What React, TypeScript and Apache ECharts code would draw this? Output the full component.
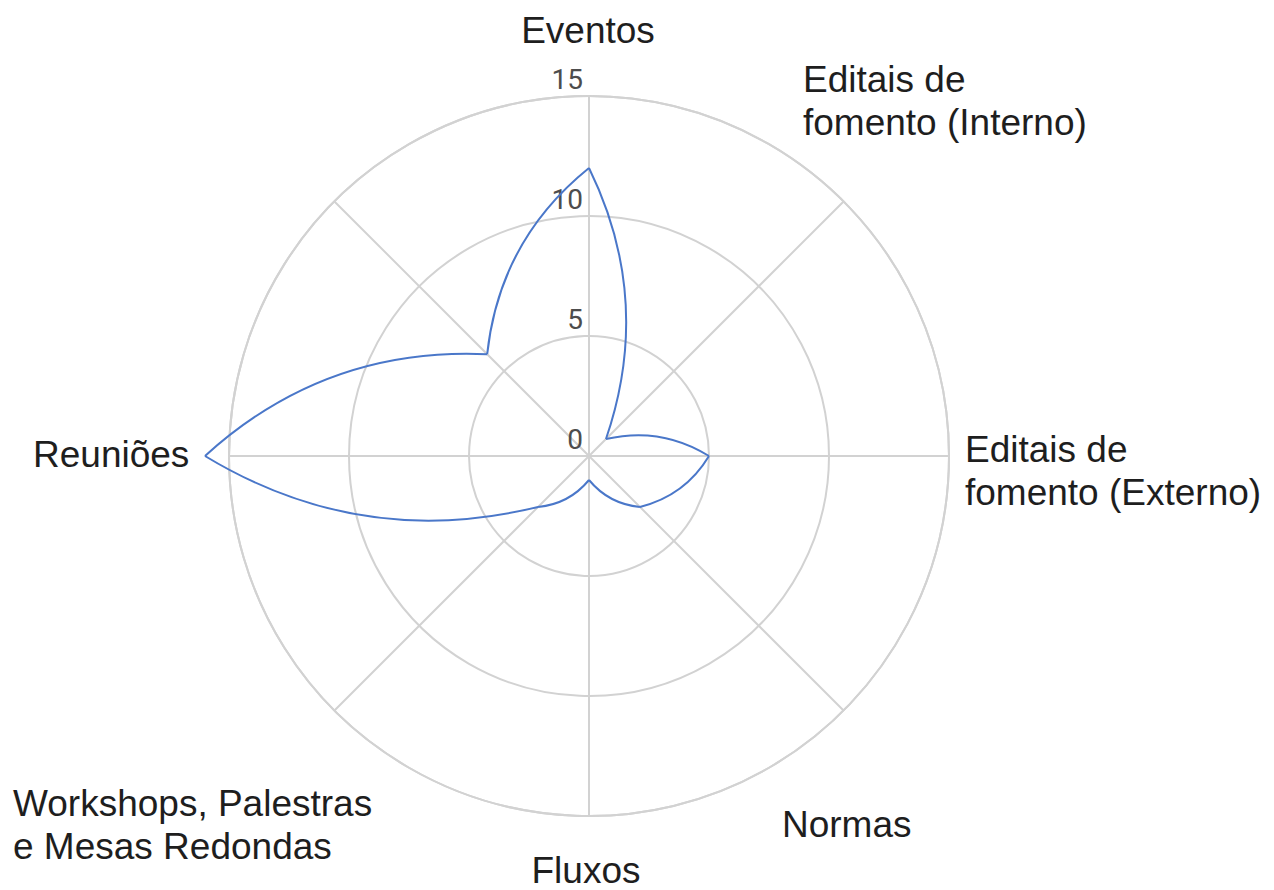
import React, { useEffect, useRef } from 'react';
import * as echarts from 'echarts';

// ---- data ----
const CATEGORIES: string[] = [
  'Eventos',
  'Editais de\nfomento (Interno)',
  'Editais de\nfomento (Externo)',
  'Normas',
  'Fluxos',
  'Workshops, Palestras\ne Mesas Redondas',
  'Reuniões',
  '',
];
const VALUES: number[] = [12, 1, 5, 3, 1, 3, 16, 6];
const RADIUS_MIN = 0;
const RADIUS_MAX = 15;
const RADIUS_STEP = 5;

// ---- layout / style (kept apart from the data) ----
const LABEL_LAYOUT: ({ x: number; baseline: number; align: 'left' | 'center' } | null)[] = [
  { x: 588, baseline: 43, align: 'center' },
  { x: 803, baseline: 92, align: 'left' },
  { x: 965, baseline: 462, align: 'left' },
  { x: 782, baseline: 837, align: 'left' },
  { x: 586, baseline: 883, align: 'center' },
  { x: 13, baseline: 816, align: 'left' },
  { x: 33, baseline: 467, align: 'left' },
  null,
];
const LABEL_FONT = 37;
const LABEL_LINE = 43;
const GRID_COLOR = '#d2d2d2';
const LINE_COLOR = '#4a77c9';

export default function App() {
  const ref = useRef<HTMLDivElement>(null);

  useEffect(() => {
    if (!ref.current) return;
    const chart = echarts.init(ref.current, undefined, { renderer: 'svg' });
    const n = CATEGORIES.length;
    const step = 360 / n;
    const angles = CATEGORIES.map((_, i) => i * step);

    const graphics: any[] = [];
    CATEGORIES.forEach((name, i) => {
      const l = LABEL_LAYOUT[i];
      if (!l || !name) return;
      graphics.push({
        type: 'text',
        x: l.x,
        y: l.baseline - 0.3465 * LABEL_FONT - LABEL_LINE / 2,
        silent: true,
        style: {
          text: name,
          fontSize: LABEL_FONT,
          fontFamily: '"Liberation Sans", Arial, sans-serif',
          fill: '#1e1e1e',
          align: l.align,
          verticalAlign: 'top',
          lineHeight: LABEL_LINE,
        },
      });
    });

    const option: any = {
      animation: false,
      backgroundColor: '#ffffff',
      polar: { center: [589, 456], radius: 360 },
      angleAxis: {
        type: 'value',
        min: 0,
        max: 360,
        interval: step,
        startAngle: 90,
        clockwise: true,
        axisLabel: { show: false },
        axisTick: { show: false },
        axisLine: { show: true, lineStyle: { color: GRID_COLOR, width: 2 } },
        splitLine: { show: true, lineStyle: { color: GRID_COLOR, width: 2 } },
      },
      radiusAxis: {
        type: 'value',
        min: RADIUS_MIN,
        max: RADIUS_MAX,
        interval: RADIUS_STEP,
        axisLine: { show: false },
        axisTick: { show: false },
        axisLabel: {
          show: true,
          color: '#4d4d4d',
          fontSize: 28,
          fontFamily: 'Roboto, sans-serif',
          align: 'right',
          verticalAlign: 'bottom',
          lineHeight: 34,
          margin: 6,
        },
        splitLine: { show: true, lineStyle: { color: GRID_COLOR, width: 2 } },
      },
      graphic: graphics,
      series: [
        {
          type: 'custom',
          coordinateSystem: 'polar',
          encode: { radius: 0, angle: 1 },
          data: VALUES.map((v, i) => [v, angles[i]]),
          renderItem: (params: any, api: any) => {
            const i = params.dataIndex;
            const j = (i + 1) % n;
            const r0 = api.value(0);
            const a0 = api.value(1);
            const r1 = VALUES[j];
            const a1 = j === 0 ? 360 : angles[j];
            const half = (a1 - a0) / 2;
            const cr = (r0 + r1) / 2 / Math.cos((half * Math.PI) / 180);
            const p0 = api.coord([r0, a0]);
            const p1 = api.coord([r1, a1]);
            const cp = api.coord([cr, a0 + half]);
            return {
              type: 'bezierCurve',
              shape: { x1: p0[0], y1: p0[1], x2: p1[0], y2: p1[1], cpx1: cp[0], cpy1: cp[1] },
              style: { stroke: LINE_COLOR, lineWidth: 2, fill: 'none' },
            };
          },
        },
      ],
    };
    chart.setOption(option);
    return () => chart.dispose();
  }, []);

  return (
    <div
      ref={ref}
      style={{ position: 'fixed', left: 0, top: 0, width: 1274, height: 890, background: '#fff' }}
    />
  );
}
